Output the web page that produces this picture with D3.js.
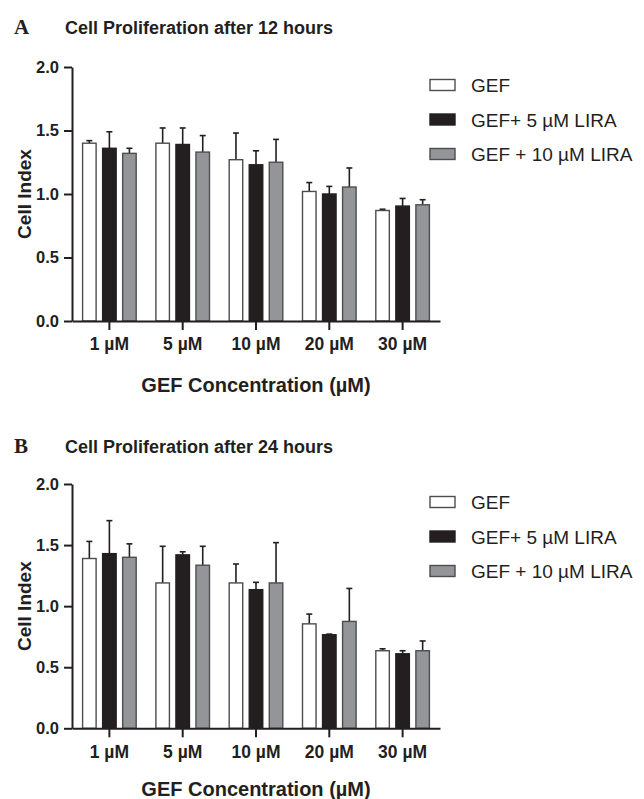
<!DOCTYPE html>
<html><head><meta charset="utf-8">
<script src="https://cdn.jsdelivr.net/npm/d3@7"></script>
<style>
body{margin:0;background:#fff;}
svg{display:block;}
text{font-family:"Liberation Sans",Arial,Helvetica,sans-serif;fill:#231f20;}
</style></head>
<body>
<svg id="chart" width="644" height="799"></svg>
<script>
const categories = ["1 µM","5 µM","10 µM","20 µM","30 µM"];
const seriesNames = ["GEF","GEF+ 5 µM LIRA","GEF + 10 µM LIRA"];
const yTicks = [0, 0.5, 1.0, 1.5, 2.0];

// Panel A: 12 hours
const a_GEF    = [1.40, 1.40, 1.27, 1.02, 0.87];
const a_LIRA5  = [1.36, 1.39, 1.23, 1.00, 0.905];
const a_LIRA10 = [1.32, 1.33, 1.25, 1.055, 0.915];
const a_GEF_err    = [0.02, 0.12, 0.21, 0.07, 0.01];
const a_LIRA5_err  = [0.13, 0.13, 0.11, 0.06, 0.06];
const a_LIRA10_err = [0.04, 0.13, 0.18, 0.15, 0.04];

// Panel B: 24 hours
const b_GEF    = [1.39, 1.19, 1.19, 0.855, 0.635];
const b_LIRA5  = [1.43, 1.42, 1.135, 0.766, 0.61];
const b_LIRA10 = [1.40, 1.335, 1.19, 0.875, 0.635];
const b_GEF_err    = [0.14, 0.30, 0.155, 0.08, 0.016];
const b_LIRA5_err  = [0.27, 0.025, 0.06, 0.005, 0.025];
const b_LIRA10_err = [0.11, 0.155, 0.33, 0.27, 0.08];

const fills = ["#ffffff", "#231f20", "#939598"];
const ink = "#231f20";

const svg = d3.select("#chart");

function panel(opts) {
  const g = svg.append("g");
  const vals = opts.values, errs = opts.errors;
  const x = d3.scaleBand().domain(categories).range([72, 440]).paddingInner(0.18).paddingOuter(0.1);
  const xs = d3.scaleBand().domain(seriesNames).range([0, x.bandwidth()]).paddingInner(0.325).paddingOuter(0.1625);
  const y = d3.scaleLinear().domain([0, 2]).range([opts.bottom, opts.top]);

  // letter and title
  g.append("text").attr("x", 14).attr("y", opts.titleY)
    .style("font-family", "'Liberation Serif','Times New Roman',serif")
    .style("font-weight", "bold").style("font-size", "21px").text(opts.letter);
  g.append("text").attr("x", 65).attr("y", opts.titleY)
    .style("font-weight", "bold").style("font-size", "18px").text(opts.title);

  // bars
  seriesNames.forEach((s, si) => {
    categories.forEach((c, ci) => {
      const v = vals[si][ci], e = errs[si][ci];
      const bx = x(c) + xs(s), bw = xs.bandwidth();
      const cx = bx + bw / 2;
      // error bar
      g.append("line").attr("x1", cx).attr("x2", cx).attr("y1", y(v)).attr("y2", y(v + e))
        .attr("stroke", ink).attr("stroke-width", 1.6);
      g.append("line").attr("x1", cx - 3).attr("x2", cx + 3).attr("y1", y(v + e)).attr("y2", y(v + e))
        .attr("stroke", ink).attr("stroke-width", 1.6);
      g.append("rect").attr("x", bx).attr("y", y(v)).attr("width", bw).attr("height", y(0) - y(v))
        .attr("fill", fills[si]).attr("stroke", si === 1 ? ink : "#4d4d4f").attr("stroke-width", 1.4);
    });
  });

  // axes
  const yAxis = g.append("g").attr("transform", `translate(72,0)`)
    .call(d3.axisLeft(y).tickValues(yTicks).tickFormat(d3.format(".1f")).tickSize(8).tickSizeOuter(0).tickPadding(5));
  yAxis.selectAll("path,line").attr("stroke", ink).attr("stroke-width", 2);
  yAxis.selectAll("text").style("font-weight", "bold").style("font-size", "16.5px").style("font-family", "'Liberation Sans',Arial,sans-serif").attr("fill", ink);

  const xAxis = g.append("g").attr("transform", `translate(0,${opts.bottom})`)
    .call(d3.axisBottom(x).tickSize(9).tickSizeOuter(0).tickPadding(8));
  xAxis.selectAll("path,line").attr("stroke", ink).attr("stroke-width", 2);
  xAxis.selectAll("text").style("font-weight", "bold").style("font-size", "17.5px").style("font-family", "'Liberation Sans',Arial,sans-serif").attr("fill", ink);

  // axis titles
  g.append("text").attr("transform", `translate(31,${(opts.top + opts.bottom) / 2}) rotate(-90)`)
    .attr("text-anchor", "middle").style("font-weight", "bold").style("font-size", "19px").text("Cell Index");
  g.append("text").attr("x", 256).attr("y", opts.xTitleY).attr("text-anchor", "middle")
    .style("font-weight", "bold").style("font-size", "20px").text("GEF Concentration (µM)");

  // legend
  seriesNames.forEach((s, si) => {
    const cy = opts.legendY + si * 34.5;
    g.append("rect").attr("x", 430).attr("y", cy - 5.5).attr("width", 25).attr("height", 11)
      .attr("fill", fills[si]).attr("stroke", si === 1 ? ink : "#4d4d4f").attr("stroke-width", 1.4);
    g.append("text").attr("x", 471).attr("y", cy + 7).style("font-size", "19px").text(s);
  });
}

panel({
  letter: "A", title: "Cell Proliferation after 12 hours", titleY: 34,
  top: 67, bottom: 321, xTitleY: 392, legendY: 85,
  values: [a_GEF, a_LIRA5, a_LIRA10], errors: [a_GEF_err, a_LIRA5_err, a_LIRA10_err]
});
panel({
  letter: "B", title: "Cell Proliferation after 24 hours", titleY: 453,
  top: 484, bottom: 728.3, xTitleY: 796, legendY: 502,
  values: [b_GEF, b_LIRA5, b_LIRA10], errors: [b_GEF_err, b_LIRA5_err, b_LIRA10_err]
});
</script>
</body></html>
